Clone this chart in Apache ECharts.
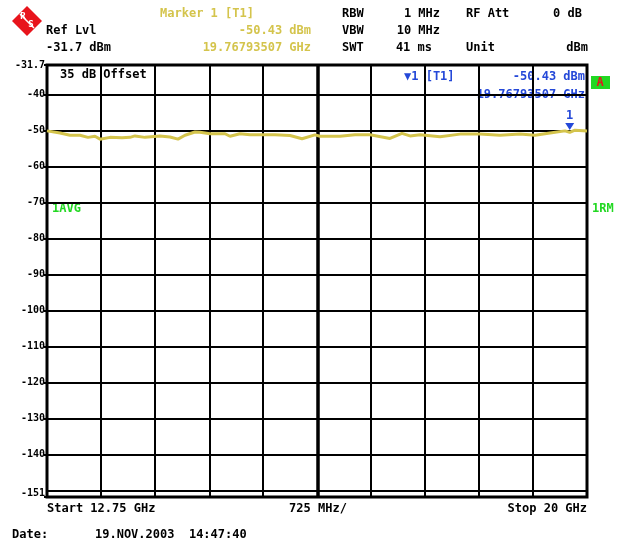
<!DOCTYPE html>
<html>
<head>
<meta charset="utf-8">
<script src="https://cdn.jsdelivr.net/npm/echarts@6/dist/echarts.min.js"></script>
<style>
html, body { margin: 0; padding: 0; background: #fff; }
#chart { width: 618px; height: 547px; }
</style>
</head>
<body>
<div id="chart"></div>
<script>
// sweep settings (GHz / dBm)
var startGHz = 12.75;
var stopGHz = 20;
var ghzPerDiv = 0.725;
var refLevel = -31.7;
var bottomLevel = -151.7;
var levelLines = [-40, -50, -60, -70, -80, -90, -100, -110, -120, -130, -140, -150];
var levelLabels = [-31.7, -40, -50, -60, -70, -80, -90, -100, -110, -120, -130, -140, -151.7];

// trace
var traceFreq = [12.75, 12.925, 13.059, 13.193, 13.30, 13.394, 13.462, 13.596, 13.757, 13.864,
	13.931, 14.066, 14.267, 14.401, 14.509, 14.603, 14.737, 14.804, 14.938, 15.14,
	15.207, 15.341, 15.476, 15.65, 15.811, 16.013, 16.174, 16.348, 16.415, 16.684,
	16.885, 17.087, 17.355, 17.516, 17.624, 17.758, 18.027, 18.295, 18.564, 18.832,
	19.101, 19.302, 19.504, 19.705, 19.768, 19.839, 20.0];
var traceLevel = [-50.0, -50.6, -51.2, -51.2, -51.8, -51.5, -52.3, -51.8, -51.9, -51.8,
	-51.4, -51.8, -51.4, -51.7, -52.3, -51.2, -50.3, -50.4, -50.8, -50.8,
	-51.5, -50.8, -51.1, -51.1, -51.1, -51.3, -52.2, -51.1, -51.5, -51.5,
	-51.1, -51.1, -52.1, -50.7, -51.4, -51.1, -51.6, -50.9, -50.9, -51.2,
	-50.9, -51.2, -50.6, -50.0, -50.43, -49.8, -50.0];

var markerFreq = 19.76793507;
var markerLevel = -50.43;

var font = 'DejaVu Sans Mono';
var yellow = '#d4c44c';
var blue = '#2448d8';
var green = '#22d822';

var chart = echarts.init(document.getElementById('chart'));

var txt = function(x, y, s, color, align, size) {
	return {
		type: 'text',
		position: [x, y],
		style: {
			text: s, x: 0, y: 0,
			fill: color || '#000',
			font: 'bold ' + (size || 12) + 'px "' + font + '"',
			align: align || 'left', verticalAlign: 'middle'
		}
	};
};

// grid lines
var gridLines = [];
levelLines.forEach(function(v) {
	gridLines.push({ yAxis: v });
});
for (var k = 1; k < 10; k++) {
	gridLines.push({
		xAxis: startGHz + k * ghzPerDiv,
		lineStyle: { width: k == 5 ? 3.5 : 2 }
	});
}

var points = traceFreq.map(function(f, i) { return [f, traceLevel[i]]; });

var option = {
	backgroundColor: '#fff',
	animation: false,
	grid: {
		left: 47, right: 31, top: 65, bottom: 50,
		show: true, borderColor: '#000', borderWidth: 3,
		outerBoundsMode: 'none'
	},
	xAxis: {
		type: 'value', min: startGHz, max: stopGHz,
		axisLine: { show: false }, axisTick: { show: false },
		axisLabel: { show: false }, splitLine: { show: false }
	},
	yAxis: {
		type: 'value', min: bottomLevel, max: refLevel,
		axisLine: { show: false },
		axisTick: { show: true, length: 3, lineStyle: { color: '#000', width: 2 }, customValues: levelLabels },
		splitLine: { show: false },
		axisLabel: {
			customValues: levelLabels,
			margin: 2,
			color: '#000',
			fontFamily: font,
			fontWeight: 'bold',
			fontSize: 10,
			formatter: function(v) {
				if (v < -151) return '{low|-151}';
				return String(v);
			},
			rich: {
				low: { fontFamily: font, fontWeight: 'bold', fontSize: 10, color: '#000', padding: [0, 0, 8, 0] }
			}
		}
	},
	series: [{
		type: 'line',
		data: points,
		showSymbol: false,
		silent: true,
		z: 5,
		lineStyle: { color: yellow, width: 3 },
		markLine: {
			silent: true,
			symbol: 'none',
			label: { show: false },
			lineStyle: { color: '#000', width: 2, type: 'solid' },
			z: 1,
			data: gridLines
		},
		markPoint: {
			silent: true,
			data: [{ coord: [markerFreq, markerLevel] }],
			symbol: 'triangle',
			symbolRotate: 180,
			symbolSize: [9, 7],
			symbolOffset: [0, -6],
			itemStyle: { color: blue },
			label: {
				show: true, position: 'top', distance: 1,
				formatter: '1', color: blue,
				fontFamily: font, fontWeight: 'bold', fontSize: 12
			}
		}
	}],
	graphic: [
		// R&S logo
		{ type: 'polygon', shape: { points: [[27, 6], [42, 21], [27, 36], [12, 21]] }, style: { fill: '#e8141c' } },
		{ type: 'line', shape: { x1: 20, y1: 14, x2: 34, y2: 28 }, style: { stroke: '#fff', lineWidth: 1.5 } },
		txt(23, 17, 'R', '#fff', 'center', 9),
		txt(31, 25, 'S', '#fff', 'center', 9),

		txt(46, 31, 'Ref Lvl'),
		txt(46, 48, '-31.7 dBm'),
		txt(207, 14, 'Marker 1 [T1]', yellow, 'center'),
		txt(311, 31, '-50.43 dBm', yellow, 'right'),
		txt(311, 48, '19.76793507 GHz', yellow, 'right'),

		txt(342, 14, 'RBW'),
		txt(440, 14, '1 MHz', '#000', 'right'),
		txt(466, 14, 'RF Att'),
		txt(582, 14, '0 dB', '#000', 'right'),
		txt(342, 31, 'VBW'),
		txt(440, 31, '10 MHz', '#000', 'right'),
		txt(342, 48, 'SWT'),
		txt(432, 48, '41 ms', '#000', 'right'),
		txt(466, 48, 'Unit'),
		txt(588, 48, 'dBm', '#000', 'right'),

		txt(60, 75, '35 dB Offset'),
		txt(404, 77, '\u25BC1 [T1]', blue),
		txt(585, 77, '-50.43 dBm', blue, 'right'),
		txt(585, 95, '19.76793507 GHz', blue, 'right'),

		{ type: 'rect', shape: { x: 591, y: 76, width: 19, height: 13 }, style: { fill: green } },
		txt(600, 83, 'A', '#e8141c', 'center'),
		txt(52, 209, '1AVG', green),
		txt(592, 209, '1RM', green),

		txt(47, 509, 'Start 12.75 GHz'),
		txt(318, 509, '725 MHz/', '#000', 'center'),
		txt(587, 509, 'Stop 20 GHz', '#000', 'right'),
		txt(12, 535, 'Date:'),
		txt(95, 535, '19.NOV.2003  14:47:40')
	]
};

chart.setOption(option);
</script>
</body>
</html>
